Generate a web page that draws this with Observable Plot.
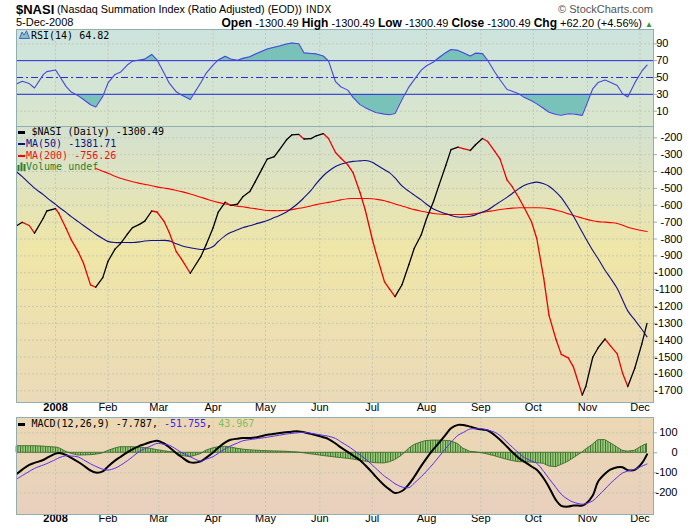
<!DOCTYPE html>
<html><head><meta charset="utf-8">
<script src="https://cdn.jsdelivr.net/npm/d3@7"></script>
<script src="https://cdn.jsdelivr.net/npm/@observablehq/plot@0.6"></script>
<style>
body{margin:0;background:#fff;}
#wrap{position:relative;width:700px;height:530px;overflow:hidden;font-family:"Liberation Sans",Arial,sans-serif;color:#000;}
.abs{position:absolute;white-space:nowrap;z-index:5;}
.leg{position:absolute;font-family:"DejaVu Sans Mono",monospace;font-size:10px;line-height:12px;white-space:nowrap;z-index:5;}
.dash{position:absolute;width:7px;height:2.5px;z-index:5;}
</style></head><body>
<svg width="0" height="0" style="position:absolute">
<defs>
<linearGradient id="gRsi" x1="0" y1="0" x2="0" y2="1"><stop offset="0" stop-color="#cce3de"/><stop offset="1" stop-color="#dae6cc"/></linearGradient>
<linearGradient id="gMain" x1="0" y1="0" x2="0" y2="1"><stop offset="0" stop-color="#d3e1d1"/><stop offset="0.45" stop-color="#efe6a7"/><stop offset="1" stop-color="#ebdab9"/></linearGradient>
<linearGradient id="gMacd" x1="0" y1="0" x2="0" y2="1"><stop offset="0" stop-color="#ecd8b3"/><stop offset="1" stop-color="#e8d0be"/></linearGradient>
<pattern id="histPat" patternUnits="userSpaceOnUse" width="2.5" height="20"><rect width="2.5" height="20" fill="#9ccf7b"/><rect width="0.9" height="20" fill="#3c6b2a"/></pattern>
</defs></svg>
<div id="wrap">
<div class="abs" style="left:16px;top:1px;font-size:13px;font-weight:bold;line-height:17px;">$NASI</div>
<div class="abs" style="left:57px;top:3px;font-size:10.8px;line-height:13px;">(Nasdaq Summation Index (Ratio Adjusted) (EOD))</div>
<div class="abs" style="left:306px;top:4px;font-size:10px;line-height:12px;letter-spacing:0.4px;">INDX</div>
<div class="abs" style="right:47px;top:3px;font-size:11px;line-height:12px;color:#555;">© StockCharts.com</div>
<div class="abs" style="left:16px;top:16px;font-size:11px;line-height:12px;">5-Dec-2008</div>
<div class="abs" style="right:47px;top:17px;font-size:11px;line-height:12px;"><b style="font-size:12px">Open</b> -1300.49 <b style="font-size:12px">High</b> -1300.49 <b style="font-size:12px">Low</b> -1300.49 <b style="font-size:12px">Close</b> -1300.49 <b style="font-size:12px">Chg</b> +62.20 (+4.56%) <span style="color:#2a9a2a;font-size:8px;">▲</span></div>

<svg class="abs" style="left:19px;top:30px;" width="11" height="9"><path d="M0.5 8.5 L3 2 L5 5 L7.5 0.8 L10.5 8.5 Z" fill="#7cc4bb" stroke="#3344cc" stroke-width="0.8"/></svg>
<div class="leg" style="left:31px;top:30px;">RSI(14) 64.82</div>

<div class="dash" style="left:18px;top:131px;background:#000;"></div>
<div class="leg" style="left:31.5px;top:126.3px;">$NASI (Daily) -1300.49</div>
<div class="dash" style="left:18px;top:142.8px;background:#10108a;"></div>
<div class="leg" style="left:26px;top:138px;color:#10108a;">MA(50) -1381.71</div>
<div class="dash" style="left:18px;top:154.5px;background:#ff0000;"></div>
<div class="leg" style="left:26px;top:149.7px;color:#f01010;">MA(200) -756.26</div>
<svg class="abs" style="left:17px;top:162px;" width="9" height="9"><rect x="0.5" y="3" width="2" height="6" fill="#2f7f2f"/><rect x="3.5" y="0.5" width="2" height="8.5" fill="#2f7f2f"/><rect x="6.5" y="2" width="2" height="7" fill="#2f7f2f"/></svg>
<div class="leg" style="left:26px;top:161.3px;color:#2f7f2f;">Volume undef</div>

<div class="dash" style="left:18px;top:423px;background:#000;"></div>
<div class="leg" style="left:31.5px;top:418.3px;">MACD(12,26,9) -7.787, <span style="color:#3a22ff">-51.755</span>, <span style="color:#80c060">43.967</span></div>
</div>
<script>
const dates = ["2007-12-11","2007-12-14","2007-12-18","2007-12-21","2007-12-26","2007-12-28",
"2008-01-02","2008-01-04","2008-01-08","2008-01-11","2008-01-15","2008-01-18","2008-01-22","2008-01-25","2008-01-29",
"2008-02-01","2008-02-05","2008-02-08","2008-02-12","2008-02-15","2008-02-19","2008-02-22","2008-02-26","2008-02-29",
"2008-03-04","2008-03-07","2008-03-11","2008-03-14","2008-03-19","2008-03-25","2008-03-28",
"2008-04-01","2008-04-04","2008-04-08","2008-04-11","2008-04-15","2008-04-18","2008-04-22","2008-04-25","2008-04-29",
"2008-05-02","2008-05-06","2008-05-09","2008-05-13","2008-05-16","2008-05-20","2008-05-23","2008-05-27","2008-05-30",
"2008-06-03","2008-06-06","2008-06-10","2008-06-13","2008-06-17","2008-06-20","2008-06-24","2008-06-27",
"2008-07-01","2008-07-03","2008-07-08","2008-07-11","2008-07-14","2008-07-18","2008-07-22","2008-07-25","2008-07-29",
"2008-08-01","2008-08-05","2008-08-08","2008-08-12","2008-08-15","2008-08-19","2008-08-22","2008-08-26","2008-08-29",
"2008-09-02","2008-09-05","2008-09-09","2008-09-12","2008-09-16","2008-09-19","2008-09-23","2008-09-26","2008-09-30",
"2008-10-03","2008-10-07","2008-10-10","2008-10-14","2008-10-17","2008-10-21","2008-10-24","2008-10-29","2008-10-31",
"2008-11-04","2008-11-07","2008-11-11","2008-11-14","2008-11-18","2008-11-21","2008-11-24","2008-11-28",
"2008-12-02","2008-12-05"];

const nasi = [-720,-701,-720,-765,-677,-634,
-620,-650,-736,-805,-876,-944,-1072,-1086,-1029,
-932,-860,-829,-772,-733,-713,-694,-634,-640,
-695,-762,-875,-919,-1003,-905,-835,
-735,-640,-582,-600,-593,-550,-519,-463,-384,
-326,-312,-270,-212,-183,-180,-207,-205,-188,
-175,-204,-287,-320,-360,-406,-524,-628,
-800,-878,-1054,-1099,-1142,-1071,-950,-855,-775,
-680,-578,-485,-364,-270,-255,-264,-275,-241,
-204,-222,-280,-325,-450,-490,-560,-618,-698,
-797,-1034,-1253,-1396,-1484,-1505,-1560,-1725,-1675,
-1501,-1446,-1393,-1432,-1481,-1594,-1675,-1566,
-1423,-1300];

const ma50 = [-404,-430,-470,-498,-537,-555,
-595,-612,-642,-667,-697,-720,-750,-772,-797,
-814,-821,-821,-821,-821,-817,-812,-809,-809,
-808,-811,-828,-840,-852,-862,-860,
-845,-815,-780,-762,-745,-733,-722,-712,-700,
-690,-673,-660,-640,-618,-585,-555,-512,-472,
-425,-398,-370,-357,-345,-340,-337,-335,
-345,-358,-390,-408,-438,-485,-518,-540,-568,
-594,-622,-635,-650,-660,-670,-670,-665,-657,
-640,-628,-600,-580,-553,-530,-500,-482,-468,
-463,-472,-487,-522,-555,-615,-665,-760,-797,
-868,-916,-985,-1030,-1094,-1160,-1226,-1280,
-1335,-1380];

const ma200 = [null,null,null,null,null,null,
null,null,null,null,null,null,null,-382,-398,
-410,-428,-440,-452,-461,-470,-476,-484,-491,
-498,-503,-512,-519,-533,-552,-562,
-575,-583,-592,-598,-605,-609,-616,-620,-627,
-631,-632,-632,-630,-626,-618,-613,-604,-596,
-588,-583,-575,-568,-561,-560,-560,-560,
-561,-564,-573,-582,-592,-604,-617,-626,-635,
-641,-649,-652,-654,-655,-655,-655,-654,-649,
-642,-637,-631,-625,-620,-617,-615,-615,-615,
-615,-616,-620,-629,-637,-651,-661,-676,-682,
-692,-697,-700,-703,-708,-718,-730,-741,
-750,-756];

const rsi = [42.5,45.5,42.8,37.5,53.4,57,
59,52.7,39.5,32.7,28.2,23.9,17.7,14.9,27.6,
43.5,53.6,56.2,64.8,69.4,70.7,71.8,77.4,71,
55.2,43.2,33,29.2,23.8,43.7,54.8,
64.6,70.9,75.2,72,70.5,72.7,74.7,77.5,81.1,
83.9,85.9,87.4,89.7,91,90,79.2,78.5,78,
75.5,69.8,45,39,35,26.4,17.8,14.2,
10.3,8.5,6.5,5.7,7.3,23.9,38.9,47.5,58.7,
64,68.4,73.4,79.5,83.2,82.2,79.3,75.4,78.9,
78.4,70.2,56.6,47.3,35.8,33.7,30.3,26.1,22.4,
18.7,13.2,8.8,6.1,5.1,6.9,6.7,5,15.6,
36.6,44,46.9,44.4,40.5,30.6,26.8,43.6,
57.5,64.8];

const macd = [-105,-84,-60,-50.5,-36,-26,
-4,-1,-11,-25,-46,-63.5,-88.5,-99,-93,
-68,-39,-21,2,17,35,43.5,55,60.5,
46.5,28,-2,-21,-48,-43,-25.5,
1,25.5,52,65,70.6,73.4,74.4,76.6,84,
90,95,99,103,105.7,107,102.8,94.5,88,
78,68.6,46.5,27,5,-13.4,-37,-62.5,
-99,-119,-163.6,-184.4,-200.6,-191,-156,-120,-65.3,
-27.5,17.8,49,91,122.5,139.7,138.9,130.8,123,
115.8,111.5,88,65.5,30.5,4,-28,-45,-68.4,
-85,-128.4,-171.8,-236.8,-264.9,-269,-263.5,-263.6,-255,
-213.5,-144.8,-104.9,-84.5,-72,-72,-86.6,-85.4,
-53.3,-8];

const signal = [-130,-114,-93,-78,-61,-54,
-34,-25,-14.4,-16.3,-20.7,-35,-55,-68,-82,
-86.4,-77,-63.5,-40,-20,7.6,20.7,35.8,47,
42.2,37.6,18,1.4,-19.8,-41.5,-32,
-19.4,-2.5,20.6,34.3,49,60,65.8,69.4,74.2,
77.9,83.8,88.2,94,97,100.7,102.6,97.3,93.2,
87.4,82.6,72,55,34,15.7,-10.5,-30,
-61,-77.4,-117,-135,-154.6,-171,-173.8,-151.8,-119,
-92.4,-52.7,-20.6,22.2,51.7,87.8,101.4,119.5,120,
120,113.7,102.7,86.2,53,28.4,-3,-24.4,-40.9,
-52.6,-93.5,-128.9,-173.8,-207.5,-234,-247,-257.1,-254.5,
-240.5,-216,-181,-153.5,-121.9,-101,-91.8,-82.2,
-67.2,-56];

const hist = [33,33,33,33,31,29.5,
26.5,23.8,5,-5,-13.5,-13.2,-12,-10,-3,
9,21,28,28,28,26,24,19,13.5,
8,4,0,-15,-22,-7,10,
22,28,30,27,20,16,12.5,11,9,
8,7,6.2,5,3.5,1,-2.5,-7.5,-11,
-16,-19,-23.5,-26,-30,-33.5,-40,-44,
-50,-52,-53,-47.5,-37,-14.5,20.5,38.5,52,
59,61,61,59.5,57.5,44,21,5,2.5,
-2.5,-8.5,-17,-25,-34.5,-41,-47,-47,-48.5,
-51.5,-55,-68,-72,-61,-45,-28,1,15,
40,63,64,49,27.5,10,5.5,10,
31,44];

const monthTickDates = ["2008-01-02","2008-02-01","2008-03-01","2008-04-01","2008-05-01","2008-06-01","2008-07-01","2008-08-01","2008-09-01","2008-10-01","2008-11-01","2008-12-01"];
const monthLabels = ["2008","Feb","Mar","Apr","May","Jun","Jul","Aug","Sep","Oct","Nov","Dec"];
const rsiTicks = [90,70,50,30,10];
const mainTicks = [-200,-300,-400,-500,-600,-700,-800,-900,-1000,-1100,-1200,-1300,-1400,-1500,-1600,-1700];
const macdTicks = [100,0,-100,-200];

const parse = d3.utcParse("%Y-%m-%d");
const rows = dates.map((d, i) => ({date: parse(d), nasi: nasi[i], ma50: ma50[i], ma200: ma200[i], rsi: rsi[i], macd: macd[i], signal: signal[i], hist: hist[i]}));
const xDomain = [new Date(Date.UTC(2007, 11, 10, 17)), new Date(Date.UTC(2008, 11, 8, 17))];
const endPlus = new Date(+xDomain[1] + 2.3 * 864e5);
const months = monthTickDates.map((d, i) => ({date: parse(d), label: monthLabels[i]}));

// split the close line into rising (black) and falling (red) pieces
const segUp = [], segDown = [];
for (let i = 1; i < rows.length; i++) {
  const a = rows[i - 1], b = rows[i];
  const arr = b.nasi >= a.nasi ? segUp : segDown;
  arr.push({date: a.date, v: a.nasi, s: i}, {date: b.date, v: b.nasi, s: i});
}

const FRAME = "#90afae", GRID = "#c4c9b5";
function panel({height, marginTop, marginBottom, yDomain, bg, yTicks, gridTicks, labelDx, xLabelDy, marks}) {
  const extra = xLabelDy == null ? [] : [
    Plot.text(months.slice(0, 1), {x: "date", text: "label", frameAnchor: "bottom", dy: xLabelDy, fontSize: 11, fontWeight: "bold", fill: "#000"}),
    Plot.text(months.slice(1), {x: "date", text: "label", frameAnchor: "bottom", dy: xLabelDy, fontSize: 11, fill: "#000"})
  ];
  return Plot.plot({
    width: 700, height, marginLeft: 16, marginRight: 47, marginTop, marginBottom,
    x: {type: "utc", domain: xDomain, axis: null},
    y: {domain: yDomain, axis: null},
    style: {background: "transparent", overflow: "visible", fontFamily: "'Liberation Sans', Arial, sans-serif", fontSize: "11px"},
    marks: [
      Plot.frame({fill: bg}),
      Plot.ruleX(months, {x: "date", stroke: GRID, strokeDasharray: "2,2"}),
      Plot.ruleY(gridTicks, {y: d => d, stroke: GRID, strokeDasharray: "2,2"}),
      ...marks,
      Plot.ruleY(yTicks, {y: d => d, x1: () => xDomain[1], x2: () => endPlus, stroke: FRAME}),
      Plot.text(yTicks, {y: d => d, text: d => String(d), frameAnchor: "right", textAnchor: "end", dx: labelDx, fontSize: 11, fill: "#000"}),
      ...extra,
      Plot.frame({stroke: FRAME})
    ]
  });
}

const rsiPlot = panel({
  height: 99, marginTop: 1, marginBottom: 1, yDomain: [-8.2, 107], bg: "url(#gRsi)",
  yTicks: rsiTicks, gridTicks: [10, 90], labelDx: 15,
  marks: [
    Plot.areaY(rows, {x: "date", y1: 70, y2: "rsi", fill: "#78c2b9"}),
    Plot.areaY(rows, {x: "date", y1: 30, y2: "rsi", fill: "#78c2b9"}),
    Plot.ruleY([70, 30], {y: d => d, stroke: "#2b2bd8"}),
    Plot.ruleY([50], {y: d => d, stroke: "#2b2bd8", strokeDasharray: "7,3,2,3"}),
    Plot.line(rows, {x: "date", y: "rsi", stroke: "#4646e0", strokeWidth: 1.1})
  ]
});

const mainPlot = panel({
  height: 293, marginTop: 1, marginBottom: 16, yDomain: [-1769.4, -133], bg: "url(#gMain)",
  yTicks: mainTicks, gridTicks: mainTicks, labelDx: 29, xLabelDy: 8,
  marks: [
    Plot.line(rows, {x: "date", y: "ma200", stroke: "#ff0000", strokeWidth: 1.1, curve: "catmull-rom"}),
    Plot.line(rows, {x: "date", y: "ma50", stroke: "#10108a", strokeWidth: 1.1, curve: "catmull-rom"}),
    Plot.line(segDown, {x: "date", y: "v", z: "s", stroke: "#ee0000", strokeWidth: 1.3, strokeLinecap: "round"}),
    Plot.line(segUp, {x: "date", y: "v", z: "s", stroke: "#000000", strokeWidth: 1.3, strokeLinecap: "round"})
  ]
});

const macdPlot = panel({
  height: 114, marginTop: 1, marginBottom: 16, yDomain: [-308.5, 176.5], bg: "url(#gMacd)",
  yTicks: macdTicks, gridTicks: macdTicks, labelDx: 24, xLabelDy: 7.5,
  marks: [
    Plot.areaY(rows, {x: "date", y1: 0, y2: "hist", fill: "url(#histPat)", stroke: "#3c6b2a", strokeWidth: 0.9}),
    Plot.line(rows, {x: "date", y: "macd", stroke: "#000", strokeWidth: 2, curve: "catmull-rom"}),
    Plot.line(rows, {x: "date", y: "signal", stroke: "#5a2df5", strokeWidth: 1, curve: "catmull-rom"})
  ]
});

// clip RSI fills: above 70 and below 30 only
try {
  const ys = rsiPlot.scale("y");
  const y70 = ys.apply(70), y30 = ys.apply(30);
  const ns = "http://www.w3.org/2000/svg";
  const defs = document.createElementNS(ns, "defs");
  const mk = (id, y, h) => {
    const cp = document.createElementNS(ns, "clipPath"); cp.setAttribute("id", id);
    const r = document.createElementNS(ns, "rect");
    r.setAttribute("x", 0); r.setAttribute("y", y); r.setAttribute("width", 700); r.setAttribute("height", h);
    cp.appendChild(r); defs.appendChild(cp);
  };
  mk("clipUp", -10, y70 + 10); mk("clipDn", y30, 300);
  rsiPlot.insertBefore(defs, rsiPlot.firstChild);
  const areas = rsiPlot.querySelectorAll('g[aria-label="area"]');
  if (areas.length >= 2) { areas[0].setAttribute("clip-path", "url(#clipUp)"); areas[1].setAttribute("clip-path", "url(#clipDn)"); }
} catch (e) { console.error(e); }

const wrap = document.getElementById("wrap");
function place(svg, top) { svg.style.position = "absolute"; svg.style.left = "0px"; svg.style.top = top + "px"; svg.style.zIndex = 1; wrap.appendChild(svg); }
place(rsiPlot, 28);
place(mainPlot, 125);
place(macdPlot, 416);
</script>
</body></html>
